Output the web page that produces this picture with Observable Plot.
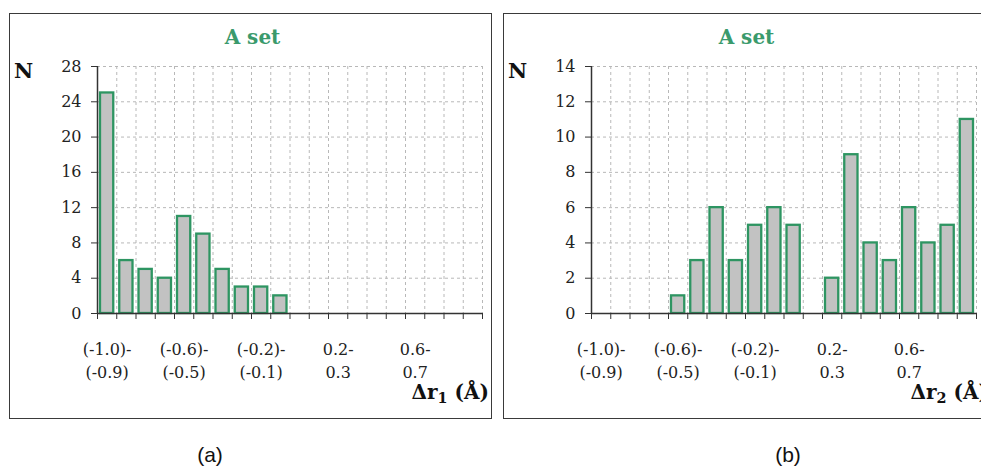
<!DOCTYPE html>
<html>
<head>
<meta charset="utf-8">
<script src="https://cdn.jsdelivr.net/npm/d3@7"></script>
<script src="https://cdn.jsdelivr.net/npm/@observablehq/plot@0.6"></script>
<style>
  html, body { margin: 0; padding: 0; background: #fff; }
  #page { position: relative; width: 981px; height: 470px; overflow: hidden; background: #fff; }
  .frame { position: absolute; box-sizing: border-box; border: 1.3px solid #3a3a3a; background: #fff; }
  .plotbox { position: absolute; width: 483px; height: 406px; }
  .plotbox svg { max-width: none !important; width: 483px; height: 406px; }
  .plotbox svg text { font-family: "DejaVu Serif", serif; }
  .title { position: absolute; font-family: "DejaVu Serif", serif; font-weight: bold; font-size: 20px; line-height: 1; color: #3a9a6c; text-align: center; white-space: nowrap; }
  .nlab { position: absolute; font-family: "DejaVu Serif", serif; font-weight: bold; font-size: 21px; line-height: 1; color: #111; }
  .xlab { position: absolute; font-family: "DejaVu Serif", serif; font-weight: bold; font-size: 20px; line-height: 1; color: #111; text-align: right; white-space: nowrap; }
  .xlab .sb { position: relative; top: 0.28em; font-size: 0.72em; }
  .cap { position: absolute; font-family: "Liberation Sans", Arial, sans-serif; font-size: 21px; line-height: 1; color: #111; text-align: center; width: 60px; }
</style>
</head>
<body>
<div id="page"></div>
<script>
// ---- data ----
const binStart = [-1.0, -0.9, -0.8, -0.7, -0.6, -0.5, -0.4, -0.3, -0.2, -0.1, 0.0, 0.1, 0.2, 0.3, 0.4, 0.5, 0.6, 0.7, 0.8, 0.9];
const binEnd   = [-0.9, -0.8, -0.7, -0.6, -0.5, -0.4, -0.3, -0.2, -0.1, 0.0, 0.1, 0.2, 0.3, 0.4, 0.5, 0.6, 0.7, 0.8, 0.9, 1.0];
const countsR1 = [25, 6, 5, 4, 11, 9, 5, 3, 3, 2, 0, 0, 0, 0, 0, 0, 0, 0, 0, 0];
const countsR2 = [0, 0, 0, 0, 1, 3, 6, 3, 5, 6, 5, 0, 2, 9, 4, 3, 6, 4, 5, 11];
const labelBins = [0, 4, 8, 12, 16];
const tickLabels = ["(-1.0)-\n(-0.9)", "(-0.6)-\n(-0.5)", "(-0.2)-\n(-0.1)", "0.2-\n0.3", "0.6-\n0.7"];
const yTicksR1 = [0, 4, 8, 12, 16, 20, 24, 28];
const yTicksR2 = [0, 2, 4, 6, 8, 10, 12, 14];
const panelTitle = "A set";
const yLabel = "N";
const captions = ["(a)", "(b)"];

const GREEN = "#2e9562";
const GRID = "#b8b8b8";
const AXIS = "#333";
const FONT = "DejaVu Serif";

const edges = [binStart[0], ...binEnd];

function makeChart(counts, yTicks) {
  const bars = counts.map((c, i) => ({x1: binStart[i], x2: binEnd[i], y: c})).filter(d => d.y > 0);
  const labels = labelBins.map((b, k) => ({x: (binStart[b] + binEnd[b]) / 2, t: tickLabels[k]}));
  return Plot.plot({
    width: 483,
    height: 406,
    marginLeft: 88,
    marginRight: 10,
    marginTop: 53,
    marginBottom: 106,
    style: "font-family: 'DejaVu Serif', serif; font-size: 16px; color: #222; background: transparent; overflow: visible;",
    x: {type: "linear", domain: [edges[0], edges[edges.length - 1]]},
    y: {domain: [yTicks[0], yTicks[yTicks.length - 1]]},
    marks: [
      Plot.gridY({ticks: yTicks, stroke: GRID, strokeOpacity: 1, strokeDasharray: "3,3", strokeWidth: 1}),
      Plot.gridX({ticks: edges, stroke: GRID, strokeOpacity: 1, strokeDasharray: "3,3", strokeWidth: 1}),
      Plot.rectY(bars, {x1: "x1", x2: "x2", y1: 0, y2: "y", insetLeft: 3, insetRight: 3, fill: "#c2c2c2", stroke: GREEN, strokeWidth: 2.3}),
      Plot.ruleY([yTicks[0]], {stroke: AXIS, strokeWidth: 1.5}),
      Plot.ruleX([edges[0]], {stroke: AXIS, strokeWidth: 1.5}),
      Plot.axisY({ticks: yTicks, tickSize: 6, tickPadding: 10, label: null, stroke: AXIS, fontSize: 16, fontFamily: FONT, fill: "#222"}),
      Plot.axisX({ticks: edges, tickSize: 6, tickFormat: () => "", label: null, stroke: AXIS}),
      Plot.text(labels, {x: "x", text: "t", frameAnchor: "bottom", lineAnchor: "top", dy: 25, lineHeight: 1.45, fontSize: 16, fontFamily: FONT, fill: "#222"})
    ]
  });
}

const page = document.getElementById("page");
const panels = [
  {left: 9, counts: countsR1, ticks: yTicksR1, sub: "1", cap: 180},
  {left: 503, counts: countsR2, ticks: yTicksR2, sub: "2", cap: 758}
];
panels.forEach((p, i) => {
  const fr = document.createElement("div");
  fr.className = "frame";
  Object.assign(fr.style, {left: p.left + "px", top: "13px", width: "483px", height: "406px"});
  page.appendChild(fr);

  const box = document.createElement("div");
  box.className = "plotbox";
  Object.assign(box.style, {left: p.left + "px", top: "13px"});
  box.appendChild(makeChart(p.counts, p.ticks));
  page.appendChild(box);

  const t = document.createElement("div");
  t.className = "title";
  t.textContent = panelTitle;
  Object.assign(t.style, {left: (p.left + 2) + "px", top: "27px", width: "483px"});
  page.appendChild(t);

  const n = document.createElement("div");
  n.className = "nlab";
  n.textContent = yLabel;
  Object.assign(n.style, {left: (p.left + 5) + "px", top: "60px"});
  page.appendChild(n);

  const xl = document.createElement("div");
  xl.className = "xlab";
  xl.innerHTML = 'Δr<span class="sb">' + p.sub + '</span> (Å)';
  Object.assign(xl.style, {left: p.left + "px", top: "382px", width: (i === 0 ? 480 : 485) + "px"});
  page.appendChild(xl);

  const c = document.createElement("div");
  c.className = "cap";
  c.textContent = captions[i];
  Object.assign(c.style, {left: p.cap + "px", top: "444px"});
  page.appendChild(c);
});
</script>
</body>
</html>
